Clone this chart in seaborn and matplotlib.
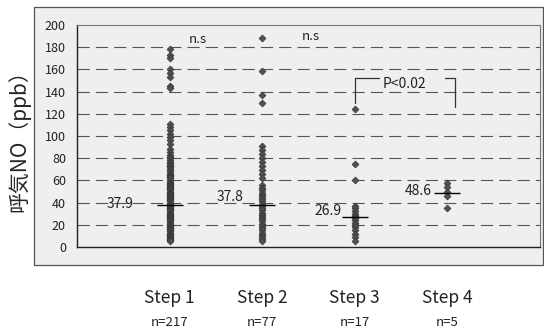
import numpy as np
import pandas as pd
import matplotlib
matplotlib.use("Agg")
import matplotlib.pyplot as plt
from matplotlib.patches import Rectangle
import seaborn as sns

sns.set_theme(style="white")
plt.rcParams['font.family'] = ['Noto Sans CJK JP', 'DejaVu Sans']

categories = ["Step 1", "Step 2", "Step 3", "Step 4"]
n_labels = ["n=217", "n=77", "n=17", "n=5"]
mean_values = [37.9, 37.8, 26.9, 48.6]
mean_labels = ["37.9", "37.8", "26.9", "48.6"]

step1 = [178, 173, 170, 160, 157, 153, 145, 143, 111, 108, 105, 102, 99, 96, 93,
         88, 86, 83, 81, 80, 78, 77, 76, 74, 73, 72, 70, 69, 68, 66, 65, 64, 63, 62,
         60, 59, 58, 57, 56, 55, 54, 53, 52, 51, 50, 49, 48, 47, 46, 45, 44, 43,
         42, 41, 40, 39, 38, 37, 36, 35, 34, 33, 32, 31, 30, 29, 28, 27, 26, 25,
         24, 23, 22, 21, 20, 19, 18, 17, 16, 15, 14, 13, 12, 11, 10, 9, 8, 7, 6, 5]
step2 = [188, 159, 137, 130, 91, 87, 84, 80, 77, 73, 69, 66, 62, 56, 53, 51, 49,
         47, 45, 43, 41, 39, 37, 35, 33, 31, 29, 27, 25, 23, 21, 19, 17, 15, 13,
         11, 9, 7, 5]
step3 = [124, 75, 60, 37, 35, 32, 30, 28, 26, 24, 22, 20, 18, 15, 12, 9, 5]
step4 = [58, 54, 50, 46, 35]

df = pd.DataFrame({
    "step": (["Step 1"] * len(step1) + ["Step 2"] * len(step2)
             + ["Step 3"] * len(step3) + ["Step 4"] * len(step4)),
    "value": step1 + step2 + step3 + step4,
})

fig = plt.figure(figsize=(5.44, 3.33), dpi=100)
fig.patch.set_facecolor("white")
frame = Rectangle((34 / 544, 1 - 265 / 333), (543 - 34) / 544, (265 - 7) / 333,
                  transform=fig.transFigure, facecolor="#efefef",
                  edgecolor="#555555", linewidth=0.9, zorder=0)
fig.patches.append(frame)

ax = fig.add_axes([77 / 544, 1 - 247 / 333, (540 - 77) / 544, (247 - 25) / 333])
ax.set_zorder(2)
ax.set_facecolor("#efefef")

sns.stripplot(data=df, x="step", y="value", order=categories, jitter=False,
              marker="D", size=3.6, color="#505050", edgecolor="#303030",
              linewidth=0.4, ax=ax, zorder=3)

ax.set_xlim(-1, 4)
ax.set_ylim(0, 200)
ax.set_yticks(range(0, 201, 20))
for yv in range(20, 200, 20):
    ax.axhline(yv, color="#555555", lw=0.8, dashes=(11, 5.5), zorder=1)

for i, (m, lab) in enumerate(zip(mean_values, mean_labels)):
    ax.hlines(m, i - 0.14, i + 0.14, color="black", lw=1.0, zorder=4)
label_pos = [(-0.54, 38.7), (0.65, 45), (1.71, 32.4), (2.69, 50.5)]
for (lx, ly), lab in zip(label_pos, mean_labels):
    ax.text(lx, ly, lab, ha="center", va="center", fontsize=10, color="#222222",
            zorder=5)

ax.text(0.31, 187, "n.s", ha="center", va="center", fontsize=9.5, color="#222222")
ax.text(1.53, 190, "n.s", ha="center", va="center", fontsize=9.5, color="#222222")

# significance bracket
ax.plot([2.0, 2.0, 2.26], [130, 152, 152], color="#333333", lw=0.9)
ax.plot([2.97, 3.08, 3.08], [152, 152, 126], color="#333333", lw=0.9)
ax.text(2.54, 147, "P<0.02", ha="center", va="center", fontsize=10, color="#222222")

ax.set_xlabel("")
ax.set_ylabel("呼気NO（ppb）", fontsize=15)
ax.yaxis.set_label_coords(-0.1, 0.5)
ax.tick_params(axis="y", length=0, pad=8, labelsize=9, colors="#222222")
ax.tick_params(axis="x", length=0, pad=30, labelsize=12.5, colors="#222222")
ax.set_xticks(range(len(categories)))
ax.set_xticklabels(categories)
for i, nl in enumerate(n_labels):
    ax.text(i, -0.338, nl, transform=ax.get_xaxis_transform(), ha="center",
            va="center", fontsize=9.5, color="#222222")

for s in ["left", "bottom"]:
    ax.spines[s].set_color("#222222")
    ax.spines[s].set_linewidth(1.0)
for s in ["top", "right"]:
    ax.spines[s].set_color("#777777")
    ax.spines[s].set_linewidth(0.8)
    ax.spines[s].set_linestyle((0, (1, 1)))

fig.savefig("out.png", dpi=100)
